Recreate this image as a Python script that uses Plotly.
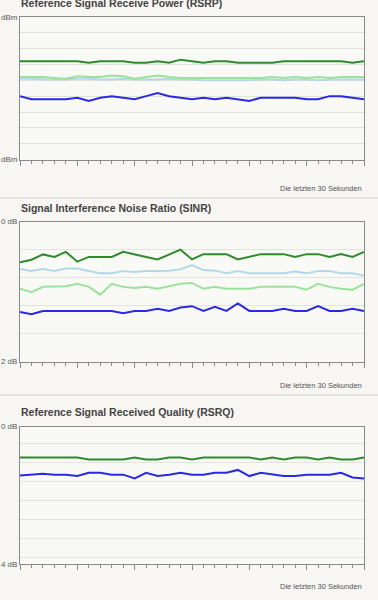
import plotly.graph_objects as go

W, H = 378, 600
seconds = list(range(31))

# Panel 1: RSRP (dBm)
rsrp_green = [-78, -78, -78, -78, -78, -78, -79, -78, -78, -78, -79, -79, -78, -79, -77, -78,
              -79, -78, -78, -79, -79, -79, -79, -78, -78, -78, -78, -78, -78, -79, -78]
rsrp_lightgreen = [-88, -88, -88, -88.5, -89, -87.5, -88, -88, -87, -87.5, -89, -88, -87, -88, -88.5, -88.5,
                   -88.5, -88.5, -88.5, -88.5, -88.5, -88.5, -88, -88.5, -88, -88.5, -88, -88.5, -88, -88, -88]
rsrp_lightblue = [-89, -89, -89.5, -89.5, -89.5, -89, -89, -89.5, -89.5, -89, -89.5, -89.5, -89.5, -89, -89.5, -89.5,
                  -90, -90, -90, -90, -90, -89.5, -89.5, -90, -89.5, -89.5, -90, -89.5, -89.5, -89.5, -89.5]
rsrp_blue = [-100, -102, -102, -102, -102, -101, -103, -101, -100, -101, -102, -100, -98, -100, -101, -102,
             -101, -102, -101, -102, -103, -101, -101, -101, -101, -102, -102, -100, -100, -101, -102]

# Panel 2: SINR (dB)
sinr_green = [15.5, 16.4, 18.3, 17.4, 19.2, 15.7, 17.4, 17.4, 17.4, 19.2, 18.4, 17.4, 16.5, 18.3, 20.0, 16.5,
              18.4, 18.4, 18.4, 16.5, 17.4, 18.4, 18.4, 18.4, 17.4, 18.4, 18.4, 17.4, 18.4, 17.4, 19.2]
sinr_lightblue = [13.1, 12.4, 13.1, 12.4, 13.3, 13.3, 12.4, 11.6, 11.6, 12.4, 12.0, 12.4, 12.4, 12.5, 13.0, 14.5,
                  12.7, 12.5, 11.6, 12.4, 11.6, 11.6, 11.6, 11.6, 12.2, 11.6, 12.4, 12.4, 11.6, 11.6, 10.7]
sinr_lightgreen = [6.0, 4.8, 6.7, 6.7, 6.9, 7.8, 6.7, 3.9, 7.8, 6.7, 6.3, 6.7, 6.0, 6.9, 7.8, 8.1,
                   6.0, 6.7, 6.0, 6.0, 6.0, 6.7, 6.7, 6.7, 6.7, 5.7, 7.8, 6.7, 6.0, 5.7, 7.8]
sinr_blue = [-2.3, -3.1, -1.9, -1.9, -1.9, -1.9, -1.9, -1.9, -1.9, -2.7, -1.9, -1.9, -1.1, -1.9, -0.7, -0.2,
             -1.9, -0.4, -1.9, 0.8, -1.9, -1.9, -1.9, -1.1, -1.9, -1.9, -0.2, -1.9, -1.9, -1.1, -1.9]

# Panel 3: RSRQ (dB)
rsrq_green = [-3.5, -3.5, -3.5, -3.5, -3.5, -3.5, -3.7, -3.7, -3.7, -3.7, -3.5, -3.7, -3.7, -3.5, -3.5, -3.7,
              -3.5, -3.5, -3.5, -3.5, -3.5, -3.7, -3.5, -3.7, -3.5, -3.5, -3.7, -3.5, -3.7, -3.7, -3.5]
rsrq_blue = [-5.4, -5.3, -5.2, -5.3, -5.3, -5.45, -5.1, -5.1, -5.3, -5.3, -5.7, -5.1, -5.45, -5.3, -5.1, -5.3,
             -5.3, -5.1, -5.1, -4.8, -5.45, -5.1, -5.3, -5.45, -5.45, -5.3, -5.3, -5.3, -5.1, -5.6, -5.7]

titles = ["Reference Signal Receive Power (RSRP)",
          "Signal Interference Noise Ratio (SINR)",
          "Reference Signal Received Quality (RSRQ)"]
top_labels = ["dBm", "0 dB", "0 dB"]
bottom_labels = ["dBm", "2 dB", "4 dB"]
footer = "Die letzten 30 Sekunden"

y_ranges = [[-140, -50], [-20, 30], [-14.75, -0.24]]
y_grids = [[-130, -120, -110, -100, -90, -80, -70, -60],
           [-10, 0, 10, 20],
           [-14, -12, -10, -8, -6, -4, -2]]

DARK_GREEN = "#2e8b2e"
LIGHT_GREEN = "#9be39b"
LIGHT_BLUE = "#b3d8e8"
BLUE = "#2a2ae0"

# pixel layout (top, bottom) of plot areas
panels_px = [(13, 158), (221, 363), (429, 569)]
title_px = [-1, 207, 414]
footer_px = [187, 387, 591]
sep_px = [197, 397]
X0, X1 = 20, 364

def py(p):
    return 1 - p / H

fig = go.Figure()

series = [
    [(rsrp_lightblue, LIGHT_BLUE), (rsrp_lightgreen, LIGHT_GREEN), (rsrp_green, DARK_GREEN), (rsrp_blue, BLUE)],
    [(sinr_lightblue, LIGHT_BLUE), (sinr_lightgreen, LIGHT_GREEN), (sinr_green, DARK_GREEN), (sinr_blue, BLUE)],
    [(rsrq_green, DARK_GREEN), (rsrq_blue, BLUE)],
]

for k in range(3):
    sfx = "" if k == 0 else str(k + 1)
    for vals, col in series[k]:
        fig.add_trace(go.Scatter(x=seconds, y=vals, mode="lines",
                                 line=dict(color=col, width=2),
                                 xaxis="x" + sfx, yaxis="y" + sfx,
                                 showlegend=False, hoverinfo="skip"))
    top, bot = panels_px[k]
    lo, hi = y_ranges[k]
    tv = [lo] + y_grids[k] + [hi]
    tt = [bottom_labels[k]] + [""] * len(y_grids[k]) + [top_labels[k]]
    fig.update_layout(**{
        "xaxis" + sfx: dict(domain=[X0 / W, X1 / W], range=[0, 30], anchor="y" + sfx,
                            showgrid=False, zeroline=False, showticklabels=False,
                            showline=True, linecolor="#8a8a8a", linewidth=1, mirror=True,
                            ticks="outside", tick0=0, dtick=5, ticklen=5, tickcolor="#8a8a8a",
                            minor=dict(ticks="outside", dtick=1, tick0=0, ticklen=3, tickcolor="#8a8a8a",
                                       showgrid=False)),
        "yaxis" + sfx: dict(domain=[py(bot), py(top)], range=[lo, hi], anchor="x" + sfx,
                            tickmode="array", tickvals=tv, ticktext=tt,
                            showgrid=True, gridcolor="#e3e3de", gridwidth=1,
                            zeroline=False, showline=True, linecolor="#8a8a8a", linewidth=1, mirror=True,
                            ticks="", tickfont=dict(family="Liberation Sans", size=8, color="#5a5a5a")),
    })
    fig.add_annotation(xref="paper", yref="paper", x=(X0 - 1.5) / W, y=py(title_px[k]),
                       xanchor="left", yanchor="middle", showarrow=False,
                       text="<b>" + titles[k] + "</b>",
                       font=dict(family="Liberation Sans", size=10.5, color="#444444"))
    fig.add_annotation(xref="paper", yref="paper", x=X1 / W, y=py(footer_px[k]),
                       xanchor="right", yanchor="middle", showarrow=False,
                       text=footer, font=dict(family="Liberation Sans", size=7.5, color="#555555"))

for s in sep_px:
    fig.add_shape(type="line", xref="paper", yref="paper", x0=0, x1=1, y0=py(s), y1=py(s),
                  line=dict(color="#cfcfcb", width=1))

fig.update_layout(width=W, height=H, margin=dict(l=0, r=0, t=0, b=0),
                  paper_bgcolor="#f7f6f2", plot_bgcolor="#f9f9f6")

fig.write_html("out.html", config={"displayModeBar": False},
               post_script="document.body.style.margin='0';document.body.style.overflow='hidden';"
                           "document.body.style.background='#f7f6f2';")
